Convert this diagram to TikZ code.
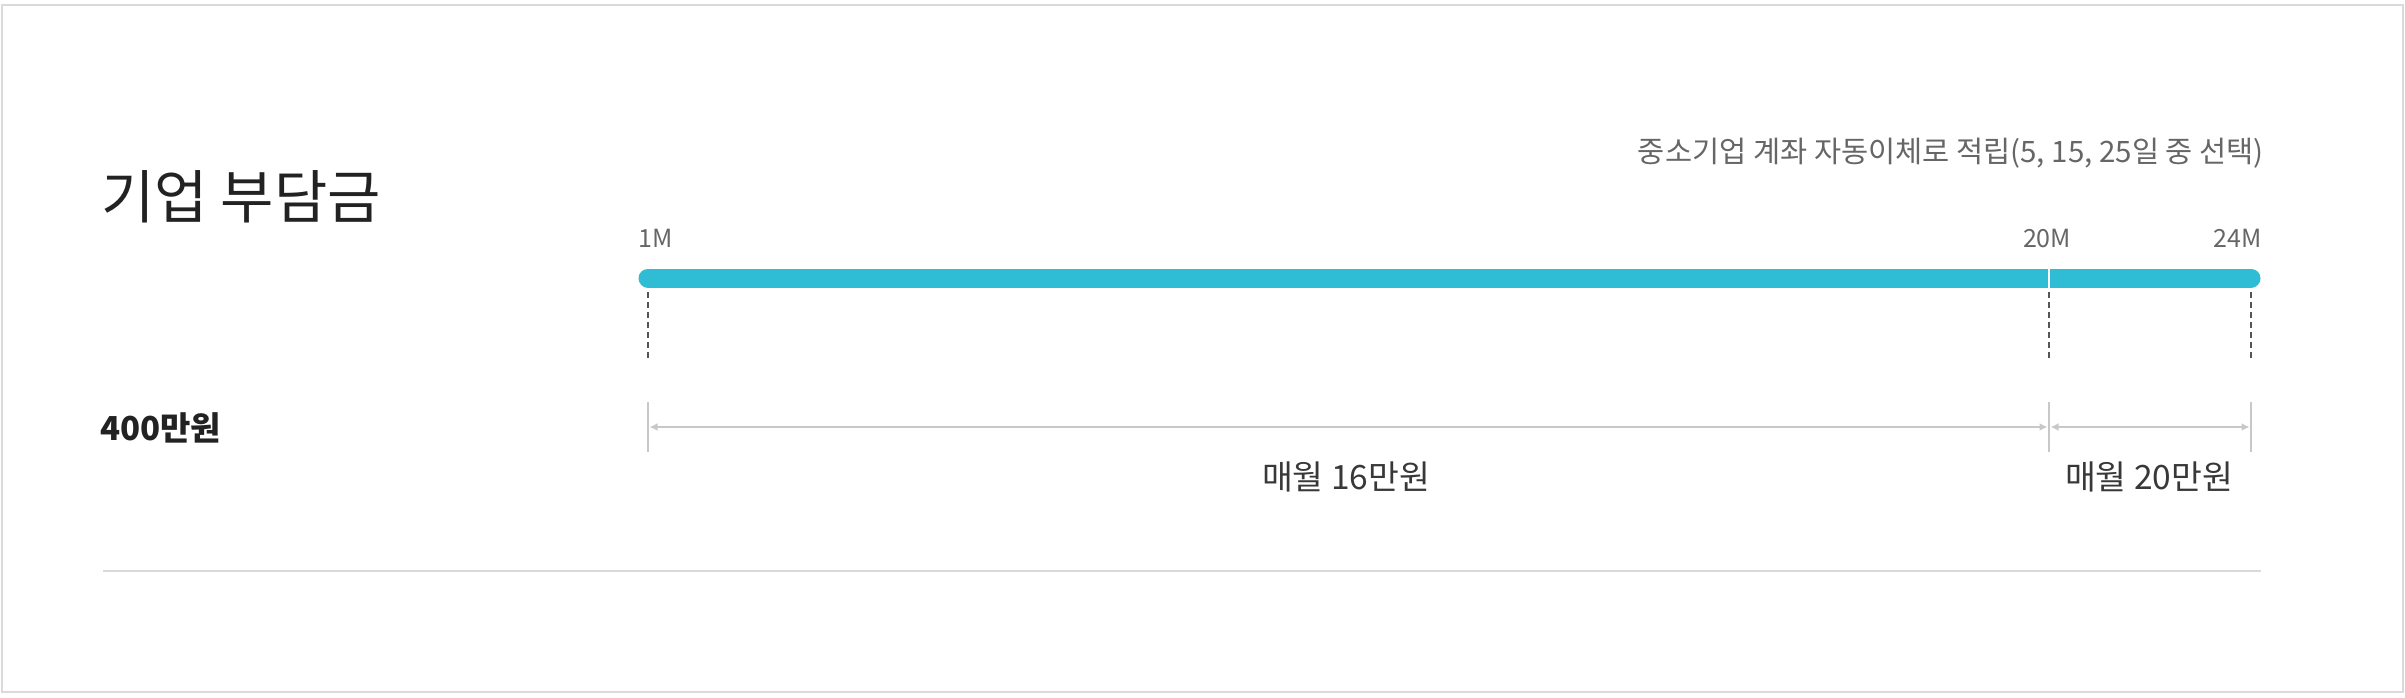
\documentclass[tikz,border=0pt]{standalone}
\usepackage{fontspec}
\setmainfont{Noto Sans CJK KR}
\usepackage{xcolor}
\usetikzlibrary{arrows.meta}

\definecolor{barcyan}{HTML}{2FBDD5}
\definecolor{framegray}{HTML}{DADADA}
\definecolor{dimgray}{HTML}{C8C8C8}
\definecolor{dashgray}{HTML}{555555}
\definecolor{labelgray}{HTML}{666666}
\definecolor{textdark}{HTML}{222222}

\begin{document}
\begin{tikzpicture}[x=1pt,y=-1pt,
  lbl/.style={inner sep=0pt, text=textdark},
  ticklbl/.style={inner sep=0pt, text=labelgray, font=\fontsize{25}{25}\selectfont},
  bar/.style={draw=barcyan, line width=19pt, line cap=round},
  guide/.style={draw=dashgray, line width=1.6pt, dash pattern=on 6pt off 4pt},
  dimline/.style={draw=dimgray, line width=1.6pt},
  dimarrow/.style={dimline, {Latex[length=8pt,width=8pt]}-{Latex[length=8pt,width=8pt]}}]

\useasboundingbox (0,0) rectangle (2405,697);
\draw[framegray, line width=2pt] (2,5) rectangle (2403,692);

%%    NODES   %%
\node[lbl, anchor=west, font=\fontsize{58}{62}\selectfont] (title) at (101,197) {기업 부담금};
\node[lbl, anchor=east, text=labelgray, font=\fontsize{29.5}{31}\selectfont] (note) at (2264,153) {중소기업 계좌 자동이체로 적립(5, 15, 25일 중 선택)};
\node[lbl, anchor=west, font=\bfseries\fontsize{33}{35}\selectfont] (total) at (100,428) {400만원};

\coordinate (m1) at (648,278);
\coordinate (m20) at (2049,278);
\coordinate (m24) at (2251,278);
\node[ticklbl, anchor=west] (l1) at (638,238) {1M};
\node[ticklbl] (l20) at (2047,238) {20M};
\node[ticklbl, anchor=east] (l24) at (2262,238) {24M};

\coordinate (d1) at (648,427);
\coordinate (d20) at (2049,427);
\coordinate (d24) at (2251,427);
\node[lbl, text=textdark!90, font=\fontsize{33.5}{35}\selectfont] (pay16) at (1346,477) {매월 16만원};
\node[lbl, text=textdark!90, font=\fontsize{33.5}{35}\selectfont] (pay20) at (2149,477) {매월 20만원};

%%    BAR    %%
\draw[bar] (m1) -- (m24);
\draw[white, line width=1.5pt] ([yshift=10pt]m20) -- ([yshift=-10pt]m20);
\foreach \p in {m1,m20,m24}
  \draw[guide] ([yshift=-14pt]\p) -- ([yshift=-82pt]\p);

%%    ARROWS    %%
\foreach \p in {d1,d20,d24}
  \draw[dimline] ([yshift=25pt]\p) -- ([yshift=-25pt]\p);
\draw[dimarrow, shorten <=1.5pt, shorten >=1.5pt] (d1) -- (d20);
\draw[dimarrow, shorten <=1.5pt, shorten >=1.5pt] (d20) -- (d24);

\draw[framegray, line width=1.6pt] (103,571) -- (2261,571);

\end{tikzpicture}
\end{document}
